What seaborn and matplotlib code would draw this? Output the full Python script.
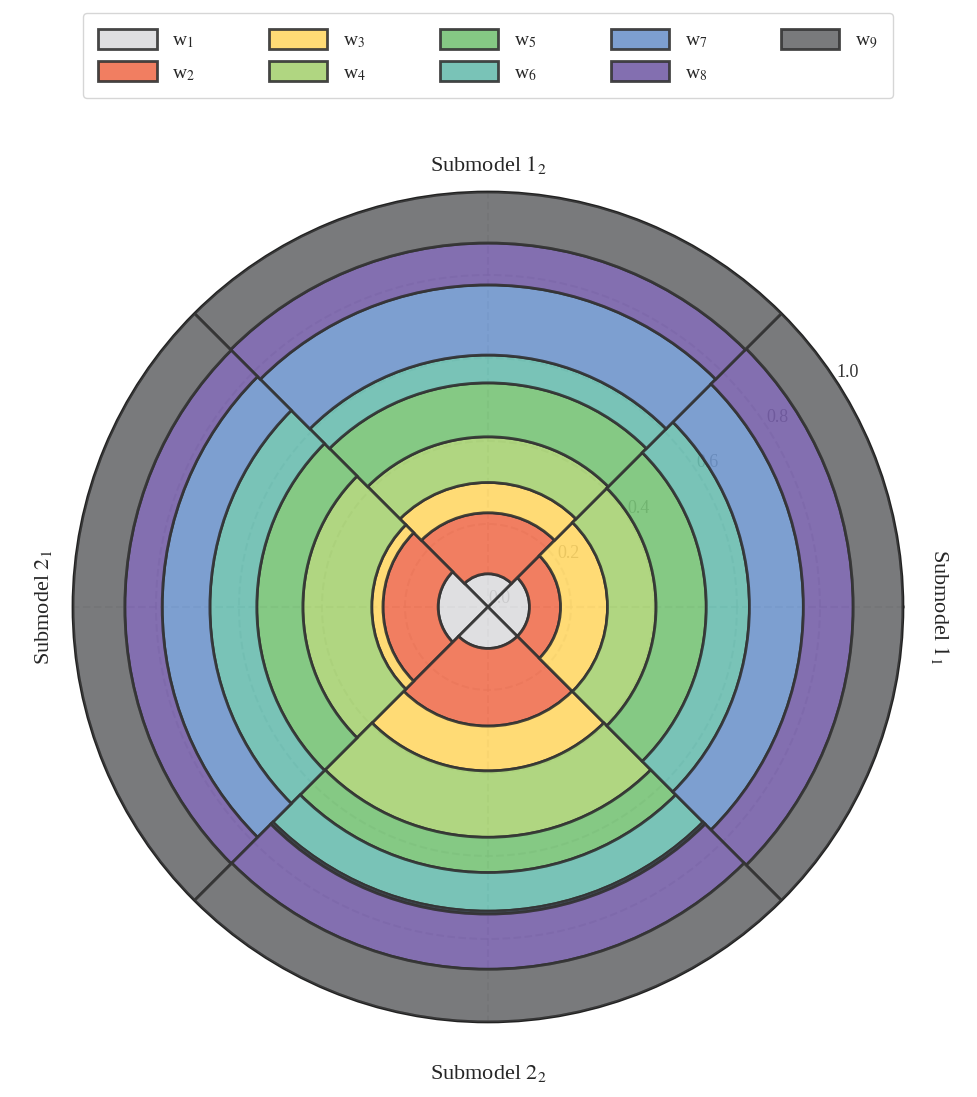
import numpy as np
import matplotlib
matplotlib.use('Agg')
import matplotlib.pyplot as plt
import seaborn as sns

# sector order: Submodel 1_1 (right), 1_2 (top), 2_1 (left), 2_2 (bottom)
sectors = ['Submodel $1_1$', 'Submodel $1_2$', 'Submodel $2_1$', 'Submodel $2_2$']
w1 = [0.100, 0.080, 0.120, 0.100]
w2 = [0.075, 0.147, 0.133, 0.187]
w3 = [0.113, 0.073, 0.027, 0.108]
w4 = [0.117, 0.110, 0.166, 0.160]
w5 = [0.121, 0.130, 0.111, 0.085]
w6 = [0.104, 0.067, 0.113, 0.093]
w7 = [0.130, 0.169, 0.115, 0.007]
w8 = [0.120, 0.101, 0.090, 0.133]
w9 = [0.120, 0.123, 0.125, 0.127]
weight_names = ['w$_1$', 'w$_2$', 'w$_3$', 'w$_4$', 'w$_5$', 'w$_6$', 'w$_7$', 'w$_8$', 'w$_9$']
colors = ['#dcdcde', '#f07050', '#ffd766', '#a8d273', '#78c377',
          '#6abdb0', '#6f95cb', '#765fa8', '#6b6c6e']

sns.set_theme(style='white')
plt.rcParams['font.family'] = ['Liberation Serif', 'DejaVu Serif']
plt.rcParams['mathtext.fontset'] = 'stix'

fig = plt.figure(figsize=(9.77, 10.97), dpi=100)
ax = fig.add_axes([0.0747, 0.0684, 0.8495, 0.7566], projection='polar')

theta = np.deg2rad([0, 90, 180, 270])
width = np.pi / 2
bottom = np.zeros(4)
handles = []
for vals, name, col in zip([w1, w2, w3, w4, w5, w6, w7, w8, w9], weight_names, colors):
    b = ax.bar(theta, vals, width=width, bottom=bottom, color=col,
               edgecolor='#333333', linewidth=2, alpha=0.9, zorder=3, label=name)
    handles.append(b)
    bottom += np.array(vals)

ax.set_ylim(0, 1.0)
ax.set_yticks([0, 0.2, 0.4, 0.6, 0.8, 1.0])
ax.set_yticklabels(['0.0', '0.2', '0.4', '0.6', '0.8', '1.0'], fontsize=13, color='#333333')
ax.set_rlabel_position(33)
ax.set_xticks(theta)
ax.set_xticklabels([])
ax.grid(True, linestyle='--', linewidth=1.5, color='#aaaaaa', alpha=0.6)
ax.spines['polar'].set_linewidth(2)
ax.spines['polar'].set_color('#222222')

rots = [270, 0, 90, 0]
rads = [1.09, 1.065, 1.07, 1.125]
for t, lab, rot, r in zip(theta, sectors, rots, rads):
    ax.text(t, r, lab, rotation=rot, ha='center', va='center', fontsize=16)

fig.legend(handles=handles, labels=weight_names, ncol=5, loc='lower left',
           bbox_to_anchor=(0.0747, 1 - 108 / 1097, 0.8495, 88 / 1097), mode='expand',
           fontsize=14, frameon=True, fancybox=True, edgecolor='#cccccc',
           handlelength=3.0, handleheight=1.2, borderpad=0.8, labelspacing=0.6)

fig.savefig('out.png', dpi=100)
